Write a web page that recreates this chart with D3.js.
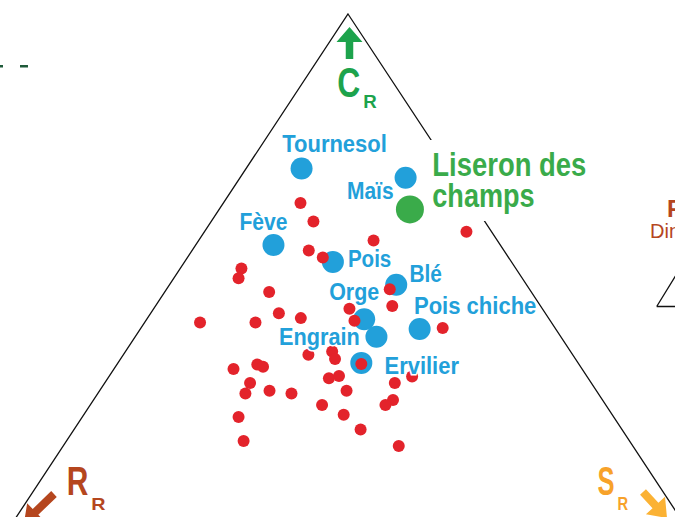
<!DOCTYPE html>
<meta charset="utf-8">
<style>
body { margin: 0; background: #fff; }
svg { display: block; font-family: "Liberation Sans", Arial, Helvetica, sans-serif; font-weight: bold; }
</style>
<body>
<svg width="675" height="517" id="chart"></svg>
<script src="https://d3js.org/d3.v7.min.js"></script>
<script>

// CSR scores in % (R = 100 - C - S)
var cropNames = ["Tournesol", "Maïs", "Fève", "Pois", "Blé", "Orge", "Pois chiche", "Engrain", "Ervilier"];
var cropC = [71.7, 70.0, 57.7, 54.6, 50.4, 44.1, 42.3, 40.9, 36.1];
var cropS = [7.7, 23.0, 10.8, 20.6, 31.5, 30.2, 38.8, 33.5, 33.8];

var weedName = ["Liseron des", "champs"];
var weedC = [64.2];
var weedS = [26.5];

// other weed species
var otherC = [65.4, 62.0, 58.5, 60.1, 56.7, 55.4, 53.4, 51.6, 49.1, 43.5, 43.5, 45.2, 44.3, 46.0,
              43.8, 49.6, 46.5, 42.5, 35.9, 37.6, 38.2, 36.8, 35.0, 35.8, 35.4, 32.4, 30.5, 31.0,
              30.5, 33.3, 33.7, 31.0, 28.4, 26.6, 26.2, 21.8, 23.9, 32.4, 29.3, 28.4, 20.9, 33.6];
var otherS = [10.7, 14.2, 24.3, 36.4, 16.2, 18.8, 8.5, 9.0, 14.5, 7.7, 15.4, 17.8, 21.3, 27.2,
              29.0, 31.0, 32.9, 41.9, 33.9, 25.7, 28.7, 29.8, 16.6, 19.5, 20.5, 20.2, 20.5, 23.6,
              26.9, 30.7, 31.9, 34.3, 32.2, 36.1, 21.7, 24.6, 39.8, 40.3, 41.6, 41.0, 46.6, 42.1];

var blue = "#22a0da", red = "#e3232b", green = "#3aab4a";
var brown = "#b5461e", orange = "#f7a22a", cGreen = "#1da34c";

var yC = d3.scaleLinear().domain([0, 100]).range([560, 14]);
var xSR = d3.scaleLinear().domain([-100, 100]).range([-12, 708]);
function px(c, s) { var r = 100 - c - s; return [xSR(s - r), yC(c)]; }

var svg = d3.select("#chart");

// triangle
var corners = [px(100, 0), px(0, 100), px(0, 0)];
svg.append("path")
    .attr("d", "M" + corners.join("L") + "Z")
    .attr("fill", "none")
    .attr("stroke", "#111")
    .attr("stroke-width", 1.3);

// white box behind the weed label
svg.append("rect")
    .attr("x", 428).attr("y", 140)
    .attr("width", 118).attr("height", 81)
    .attr("fill", "#fff");

var crops = cropNames.map(function(n, i) {
  var p = px(cropC[i], cropS[i]);
  return {name: n, x: p[0], y: p[1]};
});
var others = otherC.map(function(c, i) {
  var p = px(c, otherS[i]);
  return {x: p[0], y: p[1]};
});
var weed = px(weedC[0], weedS[0]);

svg.selectAll(".crop")
  .data(crops)
  .enter().append("circle")
    .attr("class", "crop")
    .attr("cx", function(d) { return d.x; })
    .attr("cy", function(d) { return d.y; })
    .attr("r", 11)
    .attr("fill", blue);

svg.append("circle")
    .attr("cx", weed[0]).attr("cy", weed[1])
    .attr("r", 14)
    .attr("fill", green);

svg.selectAll(".other")
  .data(others)
  .enter().append("circle")
    .attr("class", "other")
    .attr("cx", function(d) { return d.x; })
    .attr("cy", function(d) { return d.y; })
    .attr("r", 6)
    .attr("fill", red);

// label offsets from the circle: dx, dy, anchor, width
var labelAt = {
  "Tournesol": [-19.3, -16.6, "start", 104.6],
  "Maïs": [-12, 21.6, "end", 46.6],
  "Fève": [-34, -15, "start", 48],
  "Pois": [15, 5.6, "start", 43.4],
  "Blé": [13.3, -3.3, "start", 32.4],
  "Orge": [15, -19, "end", 50],
  "Pois chiche": [-5.7, -15, "start", 122.4],
  "Engrain": [-16.7, 8.3, "end", 80.7],
  "Ervilier": [23.3, 11.6, "start", 74.3]
};

svg.selectAll(".lab")
  .data(crops)
  .enter().append("text")
    .attr("class", "lab")
    .attr("x", function(d) { return d.x + labelAt[d.name][0]; })
    .attr("y", function(d) { return d.y + labelAt[d.name][1]; })
    .attr("text-anchor", function(d) { return labelAt[d.name][2]; })
    .attr("textLength", function(d) { return labelAt[d.name][3]; })
    .attr("lengthAdjust", "spacingAndGlyphs")
    .attr("font-size", 23)
    .attr("fill", blue)
    .attr("stroke", "#fff")
    .attr("stroke-width", 3)
    .attr("paint-order", "stroke")
    .text(function(d) { return d.name; });

svg.selectAll(".weedlab")
  .data(weedName)
  .enter().append("text")
    .attr("class", "weedlab")
    .attr("x", weed[0] + 22.4)
    .attr("y", function(d, i) { return weed[1] - 33.3 + i * 30.7; })
    .attr("textLength", function(d, i) { return i ? 102.3 : 154; })
    .attr("lengthAdjust", "spacingAndGlyphs")
    .attr("font-size", 33)
    .attr("fill", green)
    .text(function(d) { return d; });

// corner arrows
function arrow(x0, y0, x1, y1, sw, hw, hl) {
  var dx = x1 - x0, dy = y1 - y0, len = Math.hypot(dx, dy);
  var ux = dx / len, uy = dy / len, nx = -uy, ny = ux;
  var bx = x1 - ux * hl, by = y1 - uy * hl;
  var pts = [
    [x0 + nx * sw / 2, y0 + ny * sw / 2],
    [bx + nx * sw / 2, by + ny * sw / 2],
    [bx + nx * hw / 2, by + ny * hw / 2],
    [x1, y1],
    [bx - nx * hw / 2, by - ny * hw / 2],
    [bx - nx * sw / 2, by - ny * sw / 2],
    [x0 - nx * sw / 2, y0 - ny * sw / 2]
  ];
  return "M" + pts.join("L") + "Z";
}

svg.append("path").attr("d", arrow(349.5, 59, 349.5, 27, 7.5, 26, 15)).attr("fill", cGreen);
svg.append("path").attr("d", arrow(54, 494, 24, 523, 8, 24, 16)).attr("fill", brown);
svg.append("path").attr("d", arrow(643, 492, 667, 518, 8, 26, 17)).attr("fill", "#fbb234");

function cornerLabel(x, y, big, bw, sub, sw, dy, size, subSize, color) {
  svg.append("text").attr("x", x).attr("y", y)
      .attr("font-size", size).attr("fill", color)
      .attr("textLength", bw).attr("lengthAdjust", "spacingAndGlyphs")
      .text(big);
  svg.append("text").attr("x", x + bw + 3).attr("y", y + dy)
      .attr("font-size", subSize).attr("fill", color)
      .attr("textLength", sw).attr("lengthAdjust", "spacingAndGlyphs")
      .text(sub);
}
cornerLabel(337.3, 96.7, "C", 23, "R", 13.5, 11, 43, 18, cGreen);
cornerLabel(66.7, 495, "R", 21.6, "R", 14.3, 15, 41, 17, brown);
cornerLabel(597.5, 495, "S", 17, "R", 10.6, 15, 41, 18, orange);

// bits of neighbouring panels
svg.append("rect").attr("x", 0).attr("y", 65).attr("width", 3).attr("height", 2.5).attr("fill", "#1f5a3a");
svg.append("rect").attr("x", 20).attr("y", 65).attr("width", 8).attr("height", 2.5).attr("fill", "#1f5a3a");
svg.append("text").attr("x", 667).attr("y", 217).attr("font-size", 24).attr("fill", brown).text("F");
svg.append("text").attr("x", 650).attr("y", 238).attr("font-size", 20).attr("font-weight", "normal")
    .attr("fill", brown).text("Din");
svg.append("path").attr("d", "M656.7,306.5L676,275M656.7,306.5H676")
    .attr("fill", "none").attr("stroke", "#111").attr("stroke-width", 1.3);

</script>
</body>
